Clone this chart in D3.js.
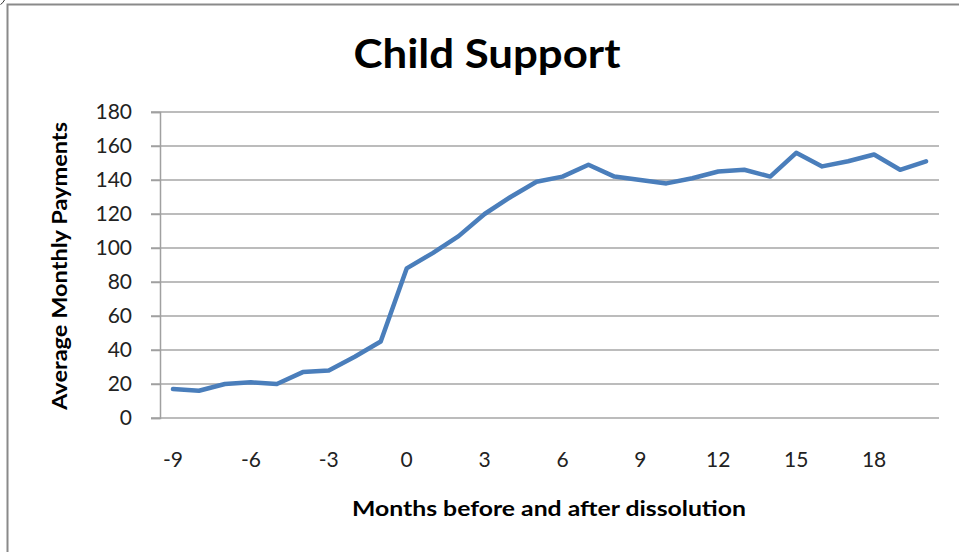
<!DOCTYPE html>
<html>
<head>
<meta charset="utf-8">
<script src="https://cdn.jsdelivr.net/npm/d3@7"></script>
<style>
  html, body { margin: 0; padding: 0; background: #fff; }
  svg { display: block; }
</style>
</head>
<body>
<svg id="chart" width="959" height="552"></svg>
<script>
// Months relative to the dissolution date
const months = [-9, -8, -7, -6, -5, -4, -3, -2, -1, 0, 1, 2, 3, 4, 5, 6, 7, 8, 9, 10,
                11, 12, 13, 14, 15, 16, 17, 18, 19, 20];
// Average monthly child support payments
const payments = [17, 16, 20, 21, 20, 27, 28, 36, 45, 88, 97, 107, 120, 130, 139, 142, 149, 142, 140, 138,
                  141, 145, 146, 142, 156, 148, 151, 155, 146, 151];
const yTicks = [0, 20, 40, 60, 80, 100, 120, 140, 160, 180];
const xTickLabels = [-9, -6, -3, 0, 3, 6, 9, 12, 15, 18];

const chartTitle = "Child Support";
const yTitle = "Average Monthly Payments";
const xTitle = "Months before and after dissolution";

const svg = d3.select("#chart");
const plot = { left: 160, right: 939, top: 112, bottom: 418 };
const font = "Lato, 'Open Sans', sans-serif";

// Frame edges
svg.append("path")
  .attr("d", `M7.5,552 V4.5 H959`)
  .attr("fill", "none")
  .attr("stroke", "#8a8a8a")
  .attr("stroke-width", 2);
svg.append("path")
  .attr("d", "M0.5,4.5 Q3,3 4.5,0")
  .attr("fill", "none")
  .attr("stroke", "#333")
  .attr("stroke-width", 1);

const x = d3.scaleBand().domain(months).range([plot.left, plot.right]);
const y = d3.scaleLinear().domain([0, 180]).range([plot.bottom, plot.top]);
const cx = m => x(m) + x.bandwidth() / 2;

// Horizontal gridlines
svg.append("g")
  .selectAll("line")
  .data(yTicks)
  .join("line")
  .attr("x1", plot.left - 9)
  .attr("x2", plot.right)
  .attr("y1", d => y(d))
  .attr("y2", d => y(d))
  .attr("stroke", "#a6a6a6")
  .attr("stroke-width", 1.5);

// Y axis
const yAxis = svg.append("g")
  .attr("transform", `translate(${plot.left},0)`)
  .call(d3.axisLeft(y).tickValues(yTicks).tickSize(9).tickPadding(19));
yAxis.select(".domain").attr("stroke", "#a0a0a0").attr("stroke-width", 1.5);
yAxis.selectAll(".tick line").attr("stroke", "#a0a0a0").attr("stroke-width", 1.5);
yAxis.selectAll("text")
  .attr("font-family", font)
  .attr("font-size", 21)
  .attr("fill", "#222");

// X axis labels (every third month)
const xAxis = svg.append("g")
  .attr("transform", `translate(0,${plot.bottom})`)
  .call(d3.axisBottom(x).tickValues(xTickLabels).tickSize(0).tickPadding(34));
xAxis.select(".domain").remove();
xAxis.selectAll("text")
  .attr("font-family", font)
  .attr("font-size", 21)
  .attr("fill", "#222");

// Payment line
const line = d3.line()
  .x((d, i) => cx(months[i]))
  .y(d => y(d));
svg.append("path")
  .datum(payments)
  .attr("d", line)
  .attr("fill", "none")
  .attr("stroke", "#4a7ebb")
  .attr("stroke-width", 4.5)
  .attr("stroke-linejoin", "round")
  .attr("stroke-linecap", "round");

// Titles
svg.append("text")
  .attr("x", 487)
  .attr("y", 68)
  .attr("text-anchor", "middle")
  .attr("font-family", font)
  .attr("font-weight", "bold")
  .attr("font-size", 40)
  .attr("textLength", 267)
  .attr("lengthAdjust", "spacingAndGlyphs")
  .text(chartTitle);

svg.append("text")
  .attr("transform", `translate(67,266) rotate(-90)`)
  .attr("text-anchor", "middle")
  .attr("font-family", font)
  .attr("font-weight", "bold")
  .attr("font-size", 21)
  .attr("textLength", 288)
  .attr("lengthAdjust", "spacingAndGlyphs")
  .text(yTitle);

svg.append("text")
  .attr("x", 549)
  .attr("y", 516)
  .attr("text-anchor", "middle")
  .attr("font-family", font)
  .attr("font-weight", "bold")
  .attr("font-size", 21)
  .attr("textLength", 394)
  .attr("lengthAdjust", "spacingAndGlyphs")
  .text(xTitle);
</script>
</body>
</html>
